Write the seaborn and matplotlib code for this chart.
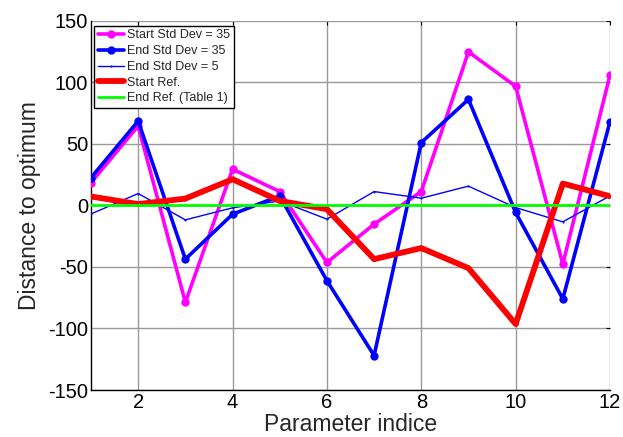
import matplotlib
matplotlib.use("Agg")
import matplotlib.pyplot as plt
import seaborn as sns
import pandas as pd
import numpy as np

params = list(range(1, 13))
start_sd35 = [18.5, 64.5, -78.8, 29.4, 11.2, -46.4, -15.3, 11.2, 124.7, 96.7, -47.7, 105.8]
end_sd35 = [22.5, 68.5, -43.7, -7.2, 7.7, -61.2, -122.0, 51.0, 86.1, -5.8, -76.0, 68.0]
end_sd5 = [-7.0, 9.6, -11.8, -2.0, 3.6, -11.2, 11.2, 5.8, 15.6, -1.8, -13.4, 7.7]
start_ref = [7.2, 1.0, 5.5, 21.2, 3.6, -3.1, -43.7, -34.7, -51.0, -96.4, 17.7, 7.4]
end_ref = [0.0] * 12

series_names = ["Start Std Dev = 35", "End Std Dev = 35", "End Std Dev = 5",
                "Start Ref.", "End Ref. (Table 1)"]
series_values = [start_sd35, end_sd35, end_sd5, start_ref, end_ref]

sns.set_style("white")
plt.rcParams['font.family'] = ['Liberation Sans', 'DejaVu Sans']
plt.rcParams['axes.unicode_minus'] = False

fig = plt.figure(figsize=(6.23, 4.37), dpi=100)
ax = fig.add_axes([91/623, 1 - 390/437, (610-91)/623, (390-20.7)/437])

styles = {
    "Start Std Dev = 35": dict(color="#ff00ff", lw=2.6, marker="o", ms=6),
    "End Std Dev = 35": dict(color="#0000ff", lw=2.6, marker="o", ms=6),
    "End Std Dev = 5": dict(color="#0000ff", lw=1.0, marker=".", ms=3),
    "Start Ref.": dict(color="#ff0000", lw=4.2, marker=".", ms=6),
    "End Ref. (Table 1)": dict(color="#00ff00", lw=2.0, marker=None, ms=0),
}

for name, vals in zip(series_names, series_values):
    df = pd.DataFrame({"x": params, "y": vals})
    st = styles[name]
    sns.lineplot(data=df, x="x", y="y", ax=ax, color=st["color"], linewidth=st["lw"],
                 marker=st["marker"], markersize=st["ms"], markeredgewidth=0,
                 label=name, zorder=3)

ax.set_xlim(1, 12)
ax.set_ylim(-150, 150)
ax.set_xticks([2, 4, 6, 8, 10, 12])
ax.set_yticks([-150, -100, -50, 0, 50, 100, 150])
ax.grid(True, color="#999999", linewidth=1.0)
for s in ["top", "right"]:
    ax.spines[s].set_visible(False)
for s in ["left", "bottom"]:
    ax.spines[s].set_color("black")
    ax.spines[s].set_linewidth(1.0)
ax.tick_params(direction="in", length=3, labelsize=14.5, colors="black", pad=2,
               top=True, right=True)
ax.set_xlabel("Parameter indice", fontsize=16.5, labelpad=1)
ax.set_ylabel("Distance to optimum", fontsize=16.5, labelpad=5)

leg = ax.legend(loc="upper left", bbox_to_anchor=(0.004, 0.99), fontsize=9,
                frameon=True, fancybox=False, edgecolor="black", framealpha=1,
                borderpad=0.3, labelspacing=0.3, handlelength=2.1, handletextpad=0.2,
                borderaxespad=0.1)
leg.get_frame().set_linewidth(1.0)

fig.savefig("out.png", dpi=100)
